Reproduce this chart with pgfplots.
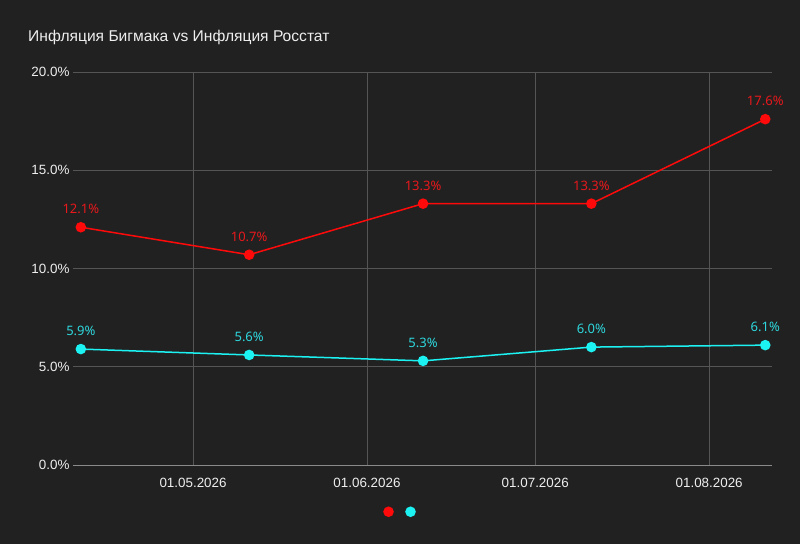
\documentclass[border=0pt]{standalone}
\usepackage{pgfplots}
\pgfplotsset{compat=1.18}
\usepackage{fontspec}
\setmainfont{Liberation Sans}
\newfontfamily\labfont{Noto Sans}
\definecolor{bg}{HTML}{212121}
\definecolor{gridc}{HTML}{555555}
\definecolor{axc}{HTML}{8A8A8A}
\definecolor{redc}{HTML}{FF0A0A}
\definecolor{cyanc}{HTML}{1CF2F2}
\definecolor{redl}{HTML}{E8181C}
\definecolor{cyanl}{HTML}{2ED8DE}
\definecolor{txt}{HTML}{EEEEEE}
\begin{document}
\begin{tikzpicture}[x=1pt,y=1pt]
\fill[bg] (0,0) rectangle (800,544);
\node[anchor=base west, text=txt, font=\fontsize{15.6}{17}\selectfont, inner sep=0pt] at (28,502) {Инфляция Бигмака vs Инфляция Росстат};
\begin{axis}[
  at={(73pt,79pt)}, anchor=south west,
  scale only axis, width=699pt, height=393pt,
  xmin=-21.4, xmax=103.2, ymin=0, ymax=20,
  axis line style={draw=none},
  /pgf/number format/assume math mode=true,
  xtick={0,31,61,92},
  xticklabels={01.05.2026,01.06.2026,01.07.2026,01.08.2026},
  ytick={0,5,10,15,20},
  yticklabels={0.0\%,5.0\%,10.0\%,15.0\%,20.0\%},
  tick style={draw=none},
  ticklabel style={text=txt, font=\fontsize{13.4}{15}\selectfont},
  xticklabel style={yshift=-10pt},
  yticklabel style={xshift=0pt},
  grid=major,
  major grid style={gridc, line width=0.9pt},
  clip=false,
  nodes near coords={\pgfmathprintnumber[fixed,fixed zerofill,precision=1,assume math mode=true]{\pgfplotspointmeta}\%},
  nodes near coords style={font=\labfont\fontsize{13}{15}\selectfont, yshift=9pt, anchor=south},
  legend style={at={(0.47,-0.107)}, anchor=north, draw=none, fill=none, legend columns=2, /tikz/every even column/.append style={column sep=9pt}, inner sep=0pt},
  legend image code/.code={\draw[#1] plot coordinates {(0pt,0pt)};},
]
\draw[axc, line width=1pt] (axis cs:-21.4,0) -- (axis cs:103.2,0);
\addplot[redc, line width=1.5pt, mark=*, mark size=4.5pt, mark options={solid, fill=redc, draw=redc}, nodes near coords style={text=redl}]
  coordinates {(-20,12.1) (10,10.7) (41,13.3) (71,13.3) (102,17.6)};
\addlegendentry{}
\addplot[cyanc, line width=1.5pt, mark=*, mark size=4.5pt, mark options={solid, fill=cyanc, draw=cyanc}, nodes near coords style={text=cyanl}]
  coordinates {(-20,5.9) (10,5.6) (41,5.3) (71,6.0) (102,6.1)};
\addlegendentry{}
\end{axis}
\end{tikzpicture}
\end{document}
